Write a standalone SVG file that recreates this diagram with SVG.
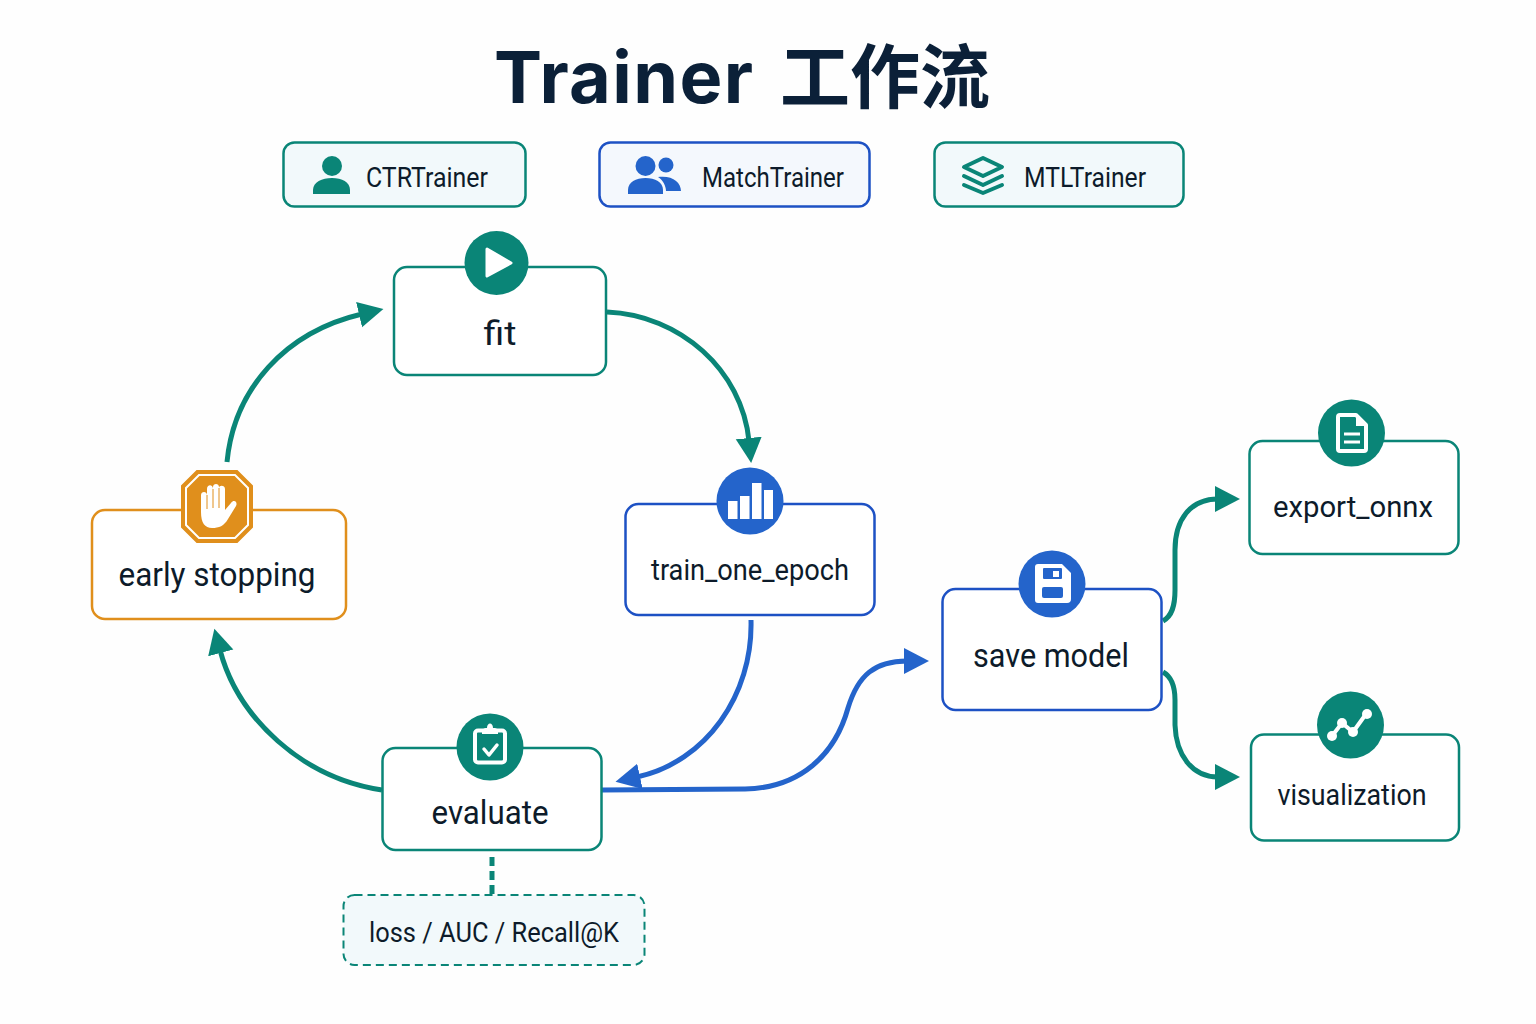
<svg xmlns="http://www.w3.org/2000/svg" width="1536" height="1024" viewBox="0 0 1536 1024">
<style>
text{font-family:Roboto,"Noto Sans CJK SC",sans-serif;fill:#0d1b2a;text-anchor:middle}
.title{font-family:Inter,"Noto Sans CJK SC",sans-serif;font-size:72px;font-weight:700;fill:#0b2038;text-anchor:start}
.n{font-size:34px}
.p{font-size:28px}
.m{font-size:30px}
.box{fill:#fff;stroke-width:2.5}
.t{stroke:#0a8577}
.b{stroke:#1d51c4}
.o{stroke:#e08f1c}
.pill{fill:#f2f9fb;stroke-width:2.5}
.fT{fill:#0a8577}
.fB{fill:#2464cb}
.w{fill:#fff}
.e{fill:none;stroke-width:5}
</style>
<defs>
<marker id="aT" markerUnits="userSpaceOnUse" markerWidth="26" markerHeight="28" refX="3" refY="14" orient="auto"><path d="M0 1L25 14L0 27Z" fill="#0a8577"/></marker>
<marker id="aB" markerUnits="userSpaceOnUse" markerWidth="26" markerHeight="28" refX="3" refY="14" orient="auto"><path d="M0 1L25 14L0 27Z" fill="#2464cb"/></marker>
</defs>
<rect width="1536" height="1024" fill="#fefefe"/>
<text id="title" class="title" y="103"><tspan x="494" letter-spacing="1.400">Trainer</tspan><tspan x="780" font-size="70">工作流</tspan></text>

<g id="connectors">
<path class="e t" marker-end="url(#aT)" d="M227 462C234 389 285 332 362 314"/>
<path class="e t" marker-end="url(#aT)" d="M607 312C680 315 742 370 749 441"/>
<path class="e" stroke="#2464cb" marker-end="url(#aB)" d="M751 620C753 695 706 762 637 777"/>
<path class="e t" marker-end="url(#aT)" d="M382 790C302 778 238 718 220 650"/>
<path class="e" stroke="#2464cb" marker-end="url(#aB)" d="M602 790L745 789C800 788 835 755 848 708C858 675 875 661 907 661"/>
<path class="e t" marker-end="url(#aT)" d="M1163 621C1172 616 1175 606 1175 590L1175 550C1175 520 1190 499 1218 499"/>
<path class="e t" marker-end="url(#aT)" d="M1163 672C1172 677 1175 687 1175 700L1175 725C1176 755 1192 777 1218 777"/>
<path class="t" fill="none" stroke-width="5" stroke-dasharray="9 5" d="M492 857L492 894"/>
</g>

<g id="ctrtrainer">
<rect class="pill t" x="283.500" y="142.500" width="242" height="64" rx="11"/>
<circle class="fT" cx="332" cy="166" r="10"/>
<path class="fT" d="M313 194V190C313 182 322 178 332 178S350 182 350 190V194Z"/>
<text class="p" x="427" y="187" textLength="122" lengthAdjust="spacingAndGlyphs">CTRTrainer</text>
</g>
<g id="matchtrainer">
<rect class="pill b" x="599.500" y="142.500" width="270" height="64" rx="11" style="fill:#f4f8fd"/>
<circle class="fB" cx="645.500" cy="166" r="10"/>
<circle class="fB" cx="666" cy="165" r="7.500"/>
<path class="fB" d="M658 177C672 175 681 182 681 191H666C666 186 663 180 658 177Z"/>
<path class="fB" d="M628 194V190C628 182 636 178 645.500 178S663 182 663 190V194Z"/>
<text class="p" x="773" y="187" textLength="142" lengthAdjust="spacingAndGlyphs">MatchTrainer</text>
</g>
<g id="mtltrainer">
<rect class="pill t" x="934.500" y="142.500" width="249" height="64" rx="11"/>
<path d="M983 158L1002 167L983 176L964 167Z" fill="none" stroke="#0a8577" stroke-width="4" stroke-linejoin="round"/>
<path d="M964 176L983 185L1002 176M964 185L983 193L1002 185" fill="none" stroke="#0a8577" stroke-width="4" stroke-linecap="round" stroke-linejoin="round"/>
<text class="p" x="1085" y="187" textLength="122" lengthAdjust="spacingAndGlyphs">MTLTrainer</text>
</g>

<g id="fit">
<rect class="box t" x="394" y="267" width="212" height="108" rx="13"/>
<circle class="fT" cx="496.500" cy="263" r="32"/>
<path class="w" stroke="#fff" stroke-width="3" stroke-linejoin="round" d="M487 249L511 263L487 276Z"/>
<text class="n" x="500" y="345" textLength="33" lengthAdjust="spacingAndGlyphs">fit</text>
</g>
<g id="train_one_epoch">
<rect class="box b" x="625.500" y="504" width="249" height="111" rx="13"/>
<circle class="fB" cx="750" cy="501" r="33.500"/>
<g class="w"><rect x="728" y="501" width="9.500" height="18"/><rect x="740" y="496" width="9.500" height="23"/><rect x="752" y="483" width="9.500" height="36"/><rect x="764" y="490" width="9" height="29"/></g>
<text class="m" x="750" y="580" textLength="198" lengthAdjust="spacingAndGlyphs">train_one_epoch</text>
</g>
<g id="early_stopping">
<rect class="box o" x="92" y="510" width="254" height="109" rx="13"/>
<path d="M197 471H237L252 486V527L237 542H197L182 527V486Z" fill="#e08f1c" stroke="#e08f1c" stroke-width="2"/>
<path d="M199 475H235L248 488V525L235 538H199L186 525V488Z" fill="#e08f1c" stroke="#fff" stroke-width="2"/>
<path class="w" d="M201 512V495C201 491 207 491 207 495V489C207 484 213 484 213 489V487C213 483 219 483 219 487V488C219 485 225 485 225 489V510L231 503C234 499 238 502 236 506L228 519C224 526 219 528 212 528C205 528 201 523 201 512Z"/>
<path d="M207 495V509M213 489V508M219 488V508" stroke="#e08f1c" stroke-width="1" fill="none"/>
<text class="n" x="217" y="586" textLength="197" lengthAdjust="spacingAndGlyphs">early stopping</text>
</g>
<g id="evaluate">
<rect class="box t" x="382.500" y="748" width="219" height="102" rx="13"/>
<circle class="fT" cx="490" cy="747" r="33.500"/>
<rect x="475" y="730.500" width="30" height="32" rx="3" fill="none" stroke="#fff" stroke-width="4"/>
<path class="w" d="M482 732C482 728 486 728 487 728C487 722 493 722 493 728C495 728 498 728 498 732V734H482Z"/>
<path d="M484 749L489 755L497 745" fill="none" stroke="#fff" stroke-width="3.500" stroke-linecap="round" stroke-linejoin="round"/>
<text class="n" x="490" y="824" textLength="117" lengthAdjust="spacingAndGlyphs">evaluate</text>
</g>
<g id="metrics">
<rect x="343.500" y="895" width="301" height="70" rx="11" fill="#f2f9fb" stroke="#0a8577" stroke-width="2" stroke-dasharray="8 5"/>
<text class="p" x="494" y="942" textLength="250" lengthAdjust="spacingAndGlyphs">loss / AUC / Recall@K</text>
</g>
<g id="save_model">
<rect class="box b" x="942.500" y="589" width="219" height="121" rx="13"/>
<circle class="fB" cx="1052" cy="584" r="33.500"/>
<path class="w" d="M1038 564H1062L1071 573V599Q1071 603 1067 603H1038Q1035 603 1035 600V567Q1035 564 1038 564Z"/>
<rect class="fB" x="1043" y="568" width="19" height="11" rx="1"/>
<rect class="w" x="1053" y="571" width="6" height="6"/>
<rect class="fB" x="1042" y="587" width="21" height="11" rx="2"/>
<text class="n" x="1051" y="667" textLength="156" lengthAdjust="spacingAndGlyphs">save model</text>
</g>
<g id="export_onnx">
<rect class="box t" x="1249.500" y="441" width="209" height="113" rx="13"/>
<circle class="fT" cx="1351.500" cy="433" r="33.500"/>
<path d="M1340 415H1356L1366 425V449Q1366 451 1364 451H1340Q1338 451 1338 449V417Q1338 415 1340 415Z" fill="none" stroke="#fff" stroke-width="4" stroke-linejoin="round"/>
<path class="w" d="M1356 417V426H1365Z"/>
<path d="M1344 434H1360M1344 442H1360" stroke="#fff" stroke-width="3"/>
<text class="m" x="1353" y="517" textLength="160" lengthAdjust="spacingAndGlyphs">export_onnx</text>
</g>
<g id="visualization">
<rect class="box t" x="1251" y="734.500" width="208" height="106" rx="13"/>
<circle class="fT" cx="1350.500" cy="725" r="33.500"/>
<path d="M1332 736L1342 723L1353 732L1366 714" fill="none" stroke="#fff" stroke-width="4"/>
<g class="w"><circle cx="1332" cy="736" r="5"/><circle cx="1342" cy="723" r="5"/><circle cx="1353" cy="732" r="5"/><circle cx="1367" cy="714" r="5"/></g>
<text class="m" x="1352" y="805" textLength="149" lengthAdjust="spacingAndGlyphs">visualization</text>
</g>
</svg>
